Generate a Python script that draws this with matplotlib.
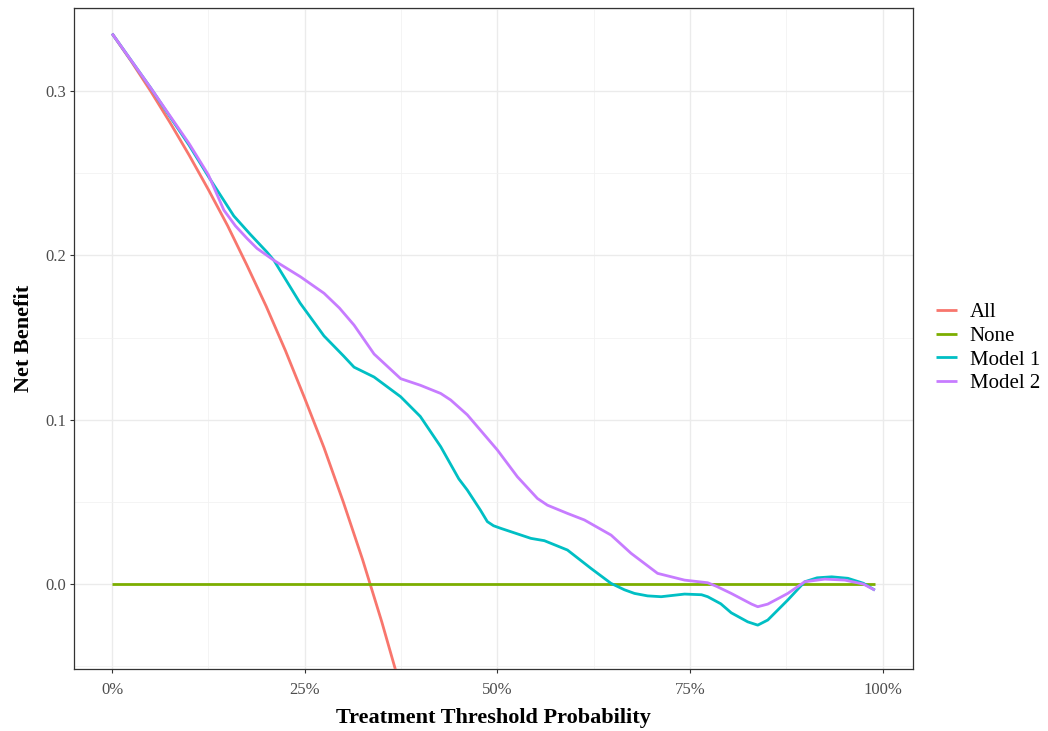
import matplotlib
matplotlib.use("Agg")
import matplotlib.pyplot as plt
from matplotlib.ticker import FuncFormatter, MultipleLocator

plt.rcParams['font.family'] = ['Liberation Serif', 'DejaVu Serif']

# --- data ---
all_x = [0.0, 0.025, 0.05, 0.075, 0.10, 0.125, 0.15, 0.175, 0.20, 0.225, 0.25,
         0.275, 0.30, 0.325, 0.35, 0.375, 0.40]
all_y = [0.335, 0.318, 0.300, 0.281, 0.261, 0.240, 0.218, 0.194, 0.169, 0.142, 0.113,
         0.083, 0.050, 0.015, -0.023, -0.064, -0.108]

none_x = [0.0, 0.99]
none_y = [0.0, 0.0]

m1_x = [0.0, 0.05, 0.10, 0.125, 0.158, 0.179, 0.201, 0.21, 0.244, 0.275, 0.30, 0.314, 0.340,
        0.3745, 0.40, 0.4265, 0.450, 0.461, 0.478, 0.487, 0.495, 0.5045, 0.5436, 0.561, 0.591,
        0.6216, 0.6476, 0.665, 0.678, 0.695, 0.7126, 0.743, 0.765, 0.773, 0.790, 0.8036, 0.825,
        0.838, 0.851, 0.877, 0.899, 0.915, 0.934, 0.955, 0.975, 0.99]
m1_y = [0.335, 0.302, 0.267, 0.248, 0.224, 0.213, 0.202, 0.197, 0.171, 0.151, 0.139, 0.132, 0.126,
        0.114, 0.102, 0.0836, 0.064, 0.0572, 0.045, 0.038, 0.0355, 0.0339, 0.0278, 0.0264, 0.0207,
        0.0095, 0.0004, -0.0035, -0.0057, -0.0072, -0.0077, -0.0061, -0.0065, -0.0077, -0.012,
        -0.0175, -0.023, -0.025, -0.0219, -0.0097, 0.0014, 0.0038, 0.0044, 0.0035, 0.0005, -0.0037]

m2_x = [0.0, 0.05, 0.10, 0.125, 0.145, 0.160, 0.175, 0.188, 0.21, 0.2445, 0.275, 0.295, 0.314,
        0.340, 0.3745, 0.40, 0.4265, 0.4395, 0.461, 0.500, 0.526, 0.552, 0.565, 0.591, 0.613,
        0.6476, 0.6736, 0.708, 0.743, 0.773, 0.785, 0.8036, 0.83, 0.838, 0.851, 0.877, 0.899,
        0.925, 0.951, 0.975, 0.99]
m2_y = [0.335, 0.302, 0.268, 0.249, 0.2276, 0.218, 0.2104, 0.2043, 0.197, 0.187, 0.177, 0.168,
        0.1576, 0.140, 0.125, 0.121, 0.116, 0.112, 0.103, 0.0816, 0.0653, 0.0521, 0.048, 0.043,
        0.039, 0.0298, 0.0187, 0.0065, 0.0024, 0.0008, -0.0015, -0.0057, -0.0122, -0.0138,
        -0.0122, -0.0057, 0.0014, 0.003, 0.0024, 0.0, -0.0037]

labels = ["All", "None", "Model 1", "Model 2"]
colors = ["#F8766D", "#7CAE00", "#00BFC4", "#C77CFF"]

fig = plt.figure(figsize=(10.48, 7.31), dpi=100)
ax = fig.add_axes([74/1048, 1-669/731, (913-74)/1048, (669-8)/731])

series = [(all_x, all_y), (none_x, none_y), (m1_x, m1_y), (m2_x, m2_y)]
handles = []
for (xs, ys), lab, col in zip(series, labels, colors):
    h, = ax.plot(xs, ys, color=col, lw=2.0, label=lab, solid_capstyle='butt',
                 solid_joinstyle='round', zorder=3)
    handles.append(h)

ax.set_xlim(-0.0495, 1.0395)
ax.set_ylim(-0.0517, 0.3506)

ax.xaxis.set_major_locator(MultipleLocator(0.25))
ax.xaxis.set_minor_locator(MultipleLocator(0.125))
ax.yaxis.set_major_locator(MultipleLocator(0.1))
ax.yaxis.set_minor_locator(MultipleLocator(0.05))
ax.xaxis.set_major_formatter(FuncFormatter(lambda v, p: f"{int(round(v*100))}%"))
ax.yaxis.set_major_formatter(FuncFormatter(lambda v, p: f"{v:.1f}"))

ax.grid(which='major', color='#EBEBEB', lw=1.0, zorder=0)
ax.grid(which='minor', color='#F2F2F2', lw=0.6, zorder=0)
ax.set_axisbelow(True)

ax.tick_params(which='major', length=3.2, width=0.8, color='#333333',
               labelsize=12, labelcolor='#4D4D4D', pad=2.5)
ax.tick_params(axis='x', which='major', pad=6)
ax.tick_params(which='minor', length=0)
for s in ax.spines.values():
    s.set_color('#333333')
    s.set_linewidth(0.9)

ax.set_xlabel("Treatment Threshold Probability", fontsize=16, fontweight='bold', labelpad=7)
ax.set_ylabel("Net Benefit", fontsize=16, fontweight='bold', labelpad=8)

fig.legend(handles=handles, labels=labels, loc='center left',
           bbox_to_anchor=(0.8755, 1-348/731), frameon=False, fontsize=15,
           handlelength=1.0, handletextpad=0.6, labelspacing=0.2)

fig.savefig("out.png", dpi=100)
